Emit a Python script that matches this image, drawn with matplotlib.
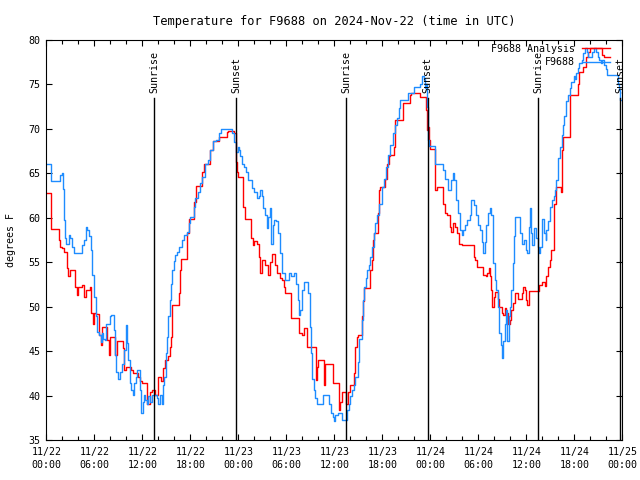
import matplotlib
matplotlib.use('Agg')
import matplotlib.pyplot as plt
from matplotlib.ticker import MultipleLocator

# hours since 2024-11-22 00:00 UTC
analysis_hours = [0.0, 0.55, 0.6, 1.6, 1.7, 2.0, 2.2, 2.6, 2.75, 3.0, 3.6, 3.8, 4.0, 4.5, 4.7, 4.9,
                  5.5, 5.6, 5.8, 5.9, 6.2, 6.6, 6.8, 6.9, 7.0, 7.6, 7.8, 8.0, 8.6, 8.8, 9.6, 9.75,
                  10.0, 10.6, 10.8, 11.5, 11.7, 12.0, 12.6, 12.96, 13.2, 13.6, 13.9, 14.3, 14.6,
                  14.8, 15.2, 15.4, 15.55, 15.7, 15.75, 16.6, 16.7, 16.8, 17.6, 17.8, 18.5, 18.7,
                  19.5, 19.7, 20.45, 20.8, 21.6, 22.6, 22.7, 23.5, 23.65, 23.75, 23.85, 23.9,
                  24.6, 24.8, 25.6, 25.8, 25.95, 26.3, 26.55, 26.7, 26.9, 27.3, 27.75, 27.95,
                  28.2, 28.6, 28.8, 29.2, 29.5, 29.7, 29.8, 30.6, 31.6, 31.9, 32.2, 32.6, 33.7,
                  33.85, 33.95, 34.7, 34.85, 35.8, 36.2, 36.55, 36.7, 36.9, 37.0, 37.5, 37.7,
                  37.9, 38.4, 38.45, 38.6, 38.8, 39.0, 39.45, 39.55, 39.7, 40.5, 40.65, 40.8,
                  40.95, 41.4, 41.55, 41.75, 42.35, 42.6, 42.8, 43.0, 43.4, 43.55, 44.55, 45.5,
                  45.6, 46.75, 47.5, 47.6, 47.65, 47.8, 47.9, 48.6, 48.8, 49.6, 49.85, 50.1,
                  50.45, 50.6, 50.85, 51.1, 51.35, 51.55, 52.0, 53.45, 53.6, 53.8, 54.6, 54.9,
                  55.1, 55.3, 55.5, 55.6, 55.7, 55.9, 56.05, 56.45, 56.6, 56.9, 57.1, 57.35,
                  57.5, 57.7, 57.96, 58.1, 58.3, 58.55, 58.95, 59.4, 59.6, 59.8, 59.95, 60.1,
                  60.3, 61.6, 61.9, 62.35, 62.5, 62.7, 62.9, 63.05, 63.5, 63.65, 64.3, 64.4,
                  64.6, 65.5, 66.4, 66.55, 67.1, 67.4, 67.75, 68.0, 69.5, 69.7, 70.5]
analysis_temp = [62.75, 61.8, 58.75, 57.5, 56.75, 56.6, 56.1, 54.3, 53.4, 54.1, 52.25, 51.3, 52.2,
                 52.4, 51.1, 51.9, 52.2, 49.25, 48.1, 49.3, 49.2, 46.8, 45.7, 47.2, 47.75, 46.25,
                 44.6, 46.6, 44.6, 46.1, 45.3, 42.9, 43.25, 42.9, 42.5, 42.1, 41.6, 41.4, 39.05,
                 40.4, 40.6, 40.1, 42.1, 41.6, 43.1, 44.0, 44.4, 45.5, 46.6, 48.5, 50.2, 51.5,
                 54.1, 55.4, 58.25, 59.9, 61.8, 63.6, 65.1, 66.1, 67.6, 68.6, 69.1, 69.6, 69.8,
                 69.5, 68.6, 66.3, 65.2, 64.6, 61.25, 59.9, 57.7, 56.9, 57.4, 57.1, 55.6, 53.75,
                 55.25, 54.7, 53.6, 55.0, 55.9, 54.7, 53.8, 53.2, 53.0, 52.25, 51.5, 48.7, 47.0,
                 46.8, 47.6, 45.5, 41.75, 43.25, 44.0, 41.2, 43.6, 41.4, 41.4, 38.4, 39.3, 40.25,
                 40.4, 39.1, 40.4, 41.2, 41.6, 42.5, 45.5, 46.6, 46.8, 48.9, 50.6, 52.1, 54.1,
                 55.25, 57.5, 58.25, 60.5, 63.1, 63.5, 64.4, 66.1, 66.9, 67.1, 68.0, 71.0, 72.9,
                 73.8, 74.0, 73.6, 72.1, 69.9, 70.2, 68.75, 67.7, 63.1, 63.5, 61.6, 60.5, 60.3,
                 59.0, 58.4, 59.4, 59.0, 58.25, 57.1, 56.9, 55.6, 55.25, 54.5, 53.6, 53.4, 53.8,
                 54.3, 53.4, 51.9, 50.0, 51.1, 51.7, 50.9, 50.0, 49.25, 49.1, 49.8, 49.3, 48.1,
                 48.5, 49.6, 50.4, 51.5, 50.9, 51.5, 52.25, 51.9, 50.75, 50.2, 51.8, 52.4, 52.8,
                 52.3, 53.4, 54.5, 55.25, 56.4, 61.6, 63.5, 62.9, 67.6, 69.1, 73.8, 75.1, 76.4,
                 77.0, 78.1, 78.6, 79.1, 78.3, 78.1, 78.1]

obs_hours = [0.0, 0.6, 1.75, 1.9, 2.05, 2.2, 2.3, 2.5, 2.85, 3.0, 3.25, 3.5, 4.5, 4.7, 4.95, 5.1,
             5.35, 5.6, 5.75, 5.9, 6.0, 6.15, 6.35, 6.55, 6.8, 6.95, 7.1, 7.35, 7.5, 7.9, 8.05,
             8.4, 8.6, 8.75, 8.95, 9.15, 9.45, 9.7, 9.95, 10.1, 10.25, 10.4, 10.6, 10.8, 11.0,
             11.15, 11.3, 11.7, 11.8, 12.05, 12.2, 12.3, 12.55, 12.75, 12.96, 13.15, 13.8, 14.0,
             14.2, 14.4, 14.55, 14.7, 14.9, 15.05, 15.2, 15.4, 15.55, 15.7, 15.9, 16.05, 16.3,
             16.6, 17.0, 17.2, 17.55, 17.8, 17.95, 18.4, 18.6, 18.9, 19.2, 19.4, 19.8, 20.25,
             20.5, 20.8, 21.2, 21.6, 21.8, 23.2, 23.4, 23.65, 23.75, 23.9, 24.05, 24.2, 24.45,
             24.7, 24.95, 25.2, 25.7, 26.0, 26.3, 26.55, 26.75, 26.95, 27.1, 27.35, 27.6, 27.75,
             27.95, 28.1, 28.3, 28.5, 28.75, 29.0, 29.2, 29.4, 29.85, 30.35, 30.6, 31.0, 31.2,
             31.4, 31.55, 31.7, 31.9, 32.0, 32.25, 32.7, 32.9, 33.05, 33.2, 33.4, 33.6, 33.8,
             34.55, 35.2, 35.35, 35.6, 35.8, 35.95, 36.1, 36.5, 37.0, 37.55, 37.8, 38.0, 38.2,
             38.4, 38.6, 38.9, 39.1, 39.4, 39.6, 39.75, 39.9, 40.1, 40.3, 40.5, 40.7, 40.9,
             41.1, 41.35, 41.6, 41.9, 42.2, 42.5, 42.7, 43.0, 43.3, 43.55, 43.8, 44.1, 44.25,
             45.2, 45.9, 46.7, 46.95, 47.2, 47.3, 47.45, 47.6, 47.75, 47.85, 48.6, 49.6, 49.8,
             50.2, 50.6, 50.8, 51.0, 51.25, 51.45, 51.7, 51.9, 52.1, 52.3, 52.6, 52.9, 53.1,
             53.5, 53.75, 53.95, 54.2, 54.4, 54.6, 54.8, 55.0, 55.2, 55.4, 55.6, 55.8, 56.05,
             56.25, 56.45, 56.6, 56.8, 56.96, 57.1, 57.3, 57.45, 57.6, 57.8, 57.96, 58.1, 58.3,
             58.45, 58.6, 59.0, 59.2, 59.5, 59.7, 59.9, 60.1, 60.3, 60.4, 60.55, 60.7, 61.0,
             61.2, 61.4, 61.55, 61.7, 61.9, 62.0, 62.2, 62.4, 62.5, 62.7, 62.9, 63.0, 63.2,
             63.4, 63.55, 63.7, 63.9, 64.0, 64.2, 64.4, 64.55, 64.7, 64.9, 65.0, 65.2, 65.4,
             65.6, 65.9, 66.1, 66.25, 66.45, 66.6, 66.9, 67.1, 67.35, 67.55, 67.7, 68.25, 68.5,
             68.7, 68.9, 69.1, 69.3, 69.5, 69.7, 69.9, 70.1, 71.4, 71.55, 71.7, 71.8]
obs_temp = [66.0, 64.1, 64.8, 65.0, 63.2, 59.75, 57.7, 57.0, 58.1, 57.7, 56.75, 56.0, 56.9, 57.5,
            59.0, 58.6, 58.0, 56.4, 53.6, 52.1, 51.1, 48.9, 47.2, 46.8, 46.0, 47.0, 46.4, 46.2,
            48.1, 48.9, 49.1, 47.4, 44.6, 42.7, 41.9, 42.7, 43.6, 45.1, 47.9, 45.9, 44.0, 41.4,
            40.6, 40.1, 41.4, 42.1, 42.9, 40.6, 38.0, 39.3, 40.1, 39.5, 39.05, 39.9, 39.3, 40.1,
            39.7, 39.05, 40.1, 39.05, 41.2, 42.1, 44.75, 46.6, 48.9, 50.75, 52.6, 54.1, 55.1,
            55.8, 56.2, 56.75, 57.5, 58.1, 58.4, 59.4, 60.1, 61.25, 62.2, 62.9, 63.9, 64.6,
            66.1, 66.5, 67.6, 68.6, 68.75, 69.5, 69.95, 69.5, 68.5, 68.0, 67.4, 68.0, 67.6,
            66.9, 66.1, 65.75, 65.2, 64.25, 63.3, 62.9, 62.2, 62.4, 63.1, 62.4, 61.1, 60.3,
            58.8, 60.1, 61.1, 57.1, 59.2, 59.75, 59.6, 58.25, 56.0, 53.75, 53.0, 53.75, 53.4,
            53.75, 52.6, 50.75, 49.1, 49.6, 50.75, 51.9, 52.8, 51.5, 47.75, 44.75, 41.9, 40.6,
            39.7, 39.05, 40.1, 40.1, 39.0, 38.0, 37.6, 37.1, 37.8, 38.0, 37.25, 38.4, 39.1,
            39.9, 40.6, 41.2, 42.1, 43.8, 46.4, 48.5, 50.75, 52.25, 53.2, 54.1, 54.7, 55.6,
            56.75, 58.25, 59.4, 60.3, 61.6, 63.5, 64.4, 65.75, 67.1, 68.2, 69.5, 70.4, 71.2,
            72.3, 73.2, 74.0, 74.75, 75.0, 75.95, 75.6, 74.6, 75.0, 72.5, 68.75, 68.1, 66.1,
            65.4, 64.4, 63.1, 64.25, 65.0, 64.25, 62.0, 60.5, 58.6, 58.1, 58.6, 59.2, 59.75,
            60.3, 62.0, 61.4, 60.3, 59.2, 58.6, 57.3, 56.0, 57.3, 59.2, 60.5, 61.1, 60.3, 54.9,
            53.0, 51.9, 50.0, 47.0, 45.7, 44.2, 46.1, 48.1, 49.6, 46.1, 48.9, 50.0, 51.9, 54.9,
            57.9, 60.1, 60.1, 58.25, 57.1, 57.5, 56.4, 56.0, 59.0, 61.1, 58.25, 56.9, 58.8,
            57.7, 56.75, 56.0, 56.75, 58.25, 59.9, 58.25, 57.5, 58.6, 59.6, 60.5, 61.25, 62.0,
            62.4, 63.1, 64.25, 65.2, 66.7, 68.0, 69.3, 70.4, 71.4, 72.3, 73.1, 73.8, 74.6,
            75.3, 75.9, 75.6, 76.25, 76.8, 77.4, 77.75, 78.5, 79.1, 78.6, 78.1, 78.7, 79.1,
            78.6, 78.1, 77.75, 77.4, 77.75, 77.2, 76.7, 76.1, 75.1, 74.4, 73.25, 73.25]

sun_hours = [13.5, 23.75, 37.5, 47.67, 61.5, 71.7]
sun_labels = ['Sunrise', 'Sunset', 'Sunrise', 'Sunset', 'Sunrise', 'Sunset']

tick_hours = list(range(0, 73, 6))
tick_labels = ['11/22\n00:00', '11/22\n06:00', '11/22\n12:00', '11/22\n18:00',
               '11/23\n00:00', '11/23\n06:00', '11/23\n12:00', '11/23\n18:00',
               '11/24\n00:00', '11/24\n06:00', '11/24\n12:00', '11/24\n18:00',
               '11/25\n00:00']

plt.rcParams['font.family'] = 'DejaVu Sans Mono'
plt.rcParams['font.size'] = 7.2

fig = plt.figure(figsize=(6.4, 4.8), dpi=100)
ax = fig.add_axes([46.3 / 640, 1 - 440 / 480, 576 / 640, 400 / 480])

ax.plot(analysis_hours, analysis_temp, color='#ff0000', lw=1, drawstyle='steps-post',
        label='F9688 Analysis')
ax.plot(obs_hours, obs_temp, color='#1e8cff', lw=1, drawstyle='steps-post', label='F9688')

for h, lab in zip(sun_hours, sun_labels):
    ax.plot([h, h], [35, 73.5], color='black', lw=1)
    ax.text(h, 74.0, lab, rotation=90, ha='center', va='bottom')

ax.set_xlim(0, 72)
ax.set_ylim(35, 80)
ax.set_xticks(tick_hours)
ax.set_xticklabels(tick_labels, linespacing=1.35)
ax.xaxis.set_minor_locator(MultipleLocator(2))
ax.yaxis.set_major_locator(MultipleLocator(5))
ax.tick_params(which='both', direction='in', top=True, right=True, width=0.8)
ax.tick_params(which='major', length=4)
ax.tick_params(which='minor', length=3)
ax.tick_params(axis='y', pad=4)
ax.tick_params(axis='x', pad=5)
for s in ax.spines.values():
    s.set_linewidth(0.8)

ax.set_ylabel('degrees F', labelpad=9)
ax.set_title('Temperature for F9688 on 2024-Nov-22 (time in UTC)', pad=11)

ax.legend(loc='upper right', bbox_to_anchor=((610 - 46.3) / 576, 1 - 4 / 400),
          frameon=False, markerfirst=False, handlelength=2.8, handletextpad=0.7,
          labelspacing=0.35, borderpad=0, borderaxespad=0)

fig.savefig('out.png', dpi=100)
